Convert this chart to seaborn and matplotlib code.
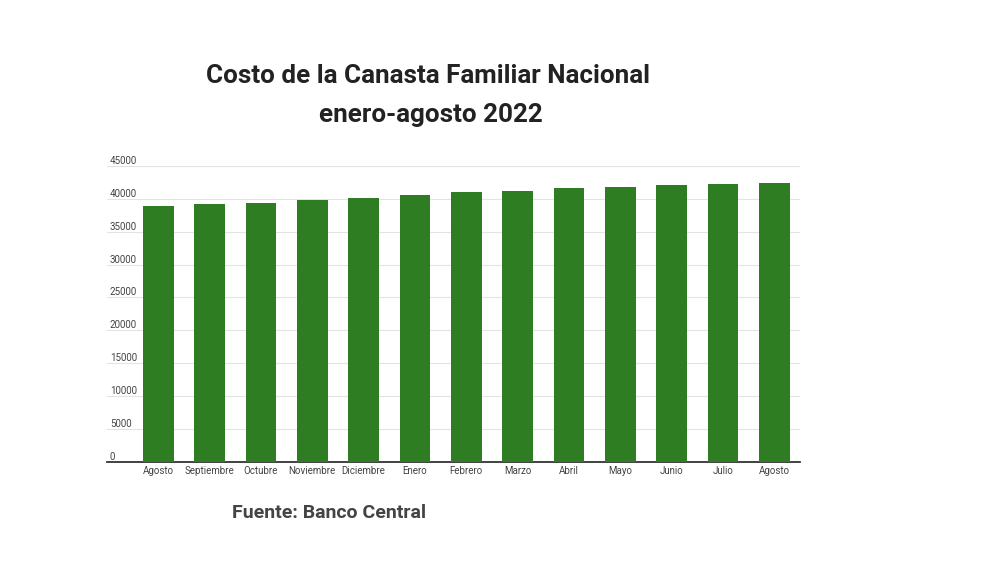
import matplotlib
matplotlib.use("Agg")
import matplotlib.pyplot as plt
import seaborn as sns
import pandas as pd

# datos
meses = ["Agosto", "Septiembre", "Octubre", "Noviembre", "Diciembre", "Enero",
         "Febrero", "Marzo", "Abril", "Mayo", "Junio", "Julio", "Agosto"]
costo = [38900, 39200, 39400, 39850, 40050, 40550, 40950, 41200, 41550,
         41800, 42100, 42300, 42400]
yticks = [0, 5000, 10000, 15000, 20000, 25000, 30000, 35000, 40000, 45000]

df = pd.DataFrame({"pos": range(len(meses)), "costo": costo})

sns.set_style("white")
plt.rcParams['font.family'] = ['Roboto', 'DejaVu Sans']

fig = plt.figure(figsize=(10, 5.62), dpi=100)
ax = fig.add_axes([0.107, 0.178, 0.693, 0.527])

sns.barplot(data=df, x="pos", y="costo", color="#2e7d22", saturation=1,
            width=0.6, ax=ax, zorder=3, linewidth=0)

ax.set_xlim(-1.0, 12.5)
ax.set_ylim(0, 45000)
ax.set_yticks(yticks)
ax.set_yticklabels([str(v) for v in yticks])
ax.set_xticks(range(len(meses)))
ax.set_xticklabels(meses)
ax.grid(axis="y", color="#e3e3e3", linewidth=0.8, zorder=0)
ax.set_axisbelow(True)
ax.set_xlabel("")
ax.set_ylabel("")

for s in ["top", "right", "left"]:
    ax.spines[s].set_visible(False)
ax.spines["bottom"].set_color("#333333")
ax.spines["bottom"].set_linewidth(1.3)

ax.tick_params(axis="y", length=0, pad=-2, labelsize=7, labelcolor="#444444")
ax.tick_params(axis="x", length=0, pad=3, labelsize=7, labelcolor="#444444")
for lab in ax.get_yticklabels():
    lab.set_horizontalalignment("left")
    lab.set_verticalalignment("bottom")

fig.text(0.4275, 0.864, "Costo de la Canasta Familiar Nacional", ha="center",
         va="center", fontsize=18.7, fontweight="bold", color="#222222")
fig.text(0.431, 0.796, "enero-agosto 2022", ha="center", va="center",
         fontsize=18.7, fontweight="bold", color="#222222")
fig.text(0.329, 0.087, "Fuente: Banco Central", ha="center", va="center",
         fontsize=14, fontweight="bold", color="#444444")

fig.savefig("out.png", dpi=100)
